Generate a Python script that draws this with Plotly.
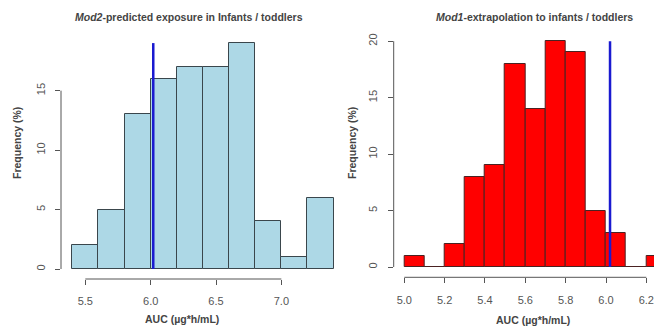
import plotly.graph_objects as go

# ---- data ----
left_edges = [5.4, 5.6, 5.8, 6.0, 6.2, 6.4, 6.6, 6.8, 7.0, 7.2, 7.4]
left_counts = [2, 5, 13, 16, 17, 17, 19, 4, 1, 6]
right_edges = [5.0, 5.1, 5.2, 5.3, 5.4, 5.5, 5.6, 5.7, 5.8, 5.9, 6.0, 6.1, 6.2, 6.3]
right_counts = [1, 0, 2, 8, 9, 18, 14, 20, 19, 5, 3, 0, 1]
ref_auc = 6.02
left_xticks = [5.5, 6.0, 6.5, 7.0]
left_yticks = [0, 5, 10, 15]
right_xticks = [5.0, 5.2, 5.4, 5.6, 5.8, 6.0, 6.2]
right_yticks = [0, 5, 10, 15, 20]

PAGE_W, PAGE_H = 662, 327
OFF = 8  # default page body margin
W, H = PAGE_W - OFF, PAGE_H - OFF
FONT = "Liberation Sans, Arial, sans-serif"
TXT = "#555555"


def centers(edges):
    return [(a + b) / 2 for a, b in zip(edges[:-1], edges[1:])]


def widths(edges):
    return [b - a for a, b in zip(edges[:-1], edges[1:])]


fig = go.Figure()
fig.add_trace(go.Bar(x=centers(left_edges), y=left_counts, width=widths(left_edges),
                     marker=dict(color="#ADD8E6", line=dict(color="#3a464c", width=1)),
                     xaxis="x", yaxis="y", showlegend=False))
fig.add_trace(go.Scatter(x=[ref_auc, ref_auc], y=[0, max(left_counts)], mode="lines",
                         line=dict(color="#1a1ad0", width=2.5), xaxis="x", yaxis="y",
                         showlegend=False))
fig.add_trace(go.Bar(x=centers(right_edges), y=right_counts, width=widths(right_edges),
                     marker=dict(color="#FF0000", line=dict(color="#4a2222", width=1)),
                     xaxis="x2", yaxis="y2", showlegend=False))
fig.add_trace(go.Scatter(x=[ref_auc, ref_auc], y=[0, max(right_counts)], mode="lines",
                         line=dict(color="#1a1ad0", width=2.5), xaxis="x2", yaxis="y2",
                         showlegend=False))


def px_x(p):
    return (p - OFF) / W


def px_y(p):
    return (PAGE_H - p) / H


# left panel pixel calibration (page pixels)
l_x0, l_x1 = 61, 340
l_scale = 130.7  # px per unit
l_ref = (5.5, 85.3)
l_ybot, l_ytop = 279, 30
l_yscale = 11.89
l_zero = 269

r_x0, r_x1 = 393.7, 662
r_scale = 201.7
r_ref = (5.0, 404.3)
r_ybot, r_ytop = 277.3, 30
r_yscale = 11.29
r_zero = 267

common_x = dict(showgrid=False, zeroline=False, showline=False, ticks="outside", ticklen=5,
                tickcolor="#555555", tickwidth=1, tickfont=dict(family=FONT, size=11, color=TXT),
                ticklabelstandoff=7)
common_y = dict(showgrid=False, zeroline=False, showline=False, ticks="outside", ticklen=5,
                tickcolor="#555555", tickwidth=1, tickangle=-90,
                tickfont=dict(family=FONT, size=11, color=TXT), ticklabelstandoff=6)

fig.update_layout(
    width=W, height=H, margin=dict(l=0, r=0, t=0, b=0),
    plot_bgcolor="white", paper_bgcolor="white", bargap=0,
    xaxis=dict(common_x, domain=[px_x(l_x0), px_x(l_x1)],
               range=[l_ref[0] - (l_ref[1] - l_x0) / l_scale, l_ref[0] + (l_x1 - l_ref[1]) / l_scale],
               tickvals=left_xticks, ticktext=[f"{v:.1f}" for v in left_xticks], anchor="y"),
    yaxis=dict(common_y, domain=[px_y(l_ybot), px_y(l_ytop)],
               range=[-(l_ybot - l_zero) / l_yscale, (l_zero - l_ytop) / l_yscale],
               tickvals=left_yticks, anchor="x"),
    xaxis2=dict(common_x, domain=[px_x(r_x0), min(1, px_x(r_x1))],
                range=[r_ref[0] - (r_ref[1] - r_x0) / r_scale, r_ref[0] + (r_x1 - r_ref[1]) / r_scale],
                tickvals=right_xticks, ticktext=[f"{v:.1f}" for v in right_xticks], anchor="y2"),
    yaxis2=dict(common_y, domain=[px_y(r_ybot), px_y(r_ytop)],
                range=[-(r_ybot - r_zero) / r_yscale, (r_zero - r_ytop) / r_yscale],
                tickvals=right_yticks, anchor="x2"),
)

# axis lines spanning the tick range (R style)
for xa, ya, xt, yt in [("x", "y", left_xticks, left_yticks), ("x2", "y2", right_xticks, right_yticks)]:
    fig.add_shape(type="line", xref=xa, yref=f"{ya} domain", x0=xt[0], x1=xt[-1], y0=0, y1=0,
                  line=dict(color="#555555", width=1))
    fig.add_shape(type="line", xref=f"{xa} domain", yref=ya, x0=0, x1=0, y0=yt[0], y1=yt[-1],
                  line=dict(color="#555555", width=1))

TITLE_C = "#444444"
ann = [
    dict(text="<b><i>Mod2</i>-predicted exposure in Infants / toddlers</b>", x=px_x(189), y=px_y(17)),
    dict(text="<b><i>Mod1</i>-extrapolation to infants / toddlers</b>", x=px_x(534), y=px_y(17)),
    dict(text="<b>AUC (µg*h/mL)</b>", x=px_x(182), y=px_y(319)),
    dict(text="<b>AUC (µg*h/mL)</b>", x=px_x(533), y=px_y(320)),
    dict(text="<b>Frequency (%)</b>", x=px_x(17), y=px_y(143), textangle=-90),
    dict(text="<b>Frequency (%)</b>", x=px_x(352), y=px_y(143), textangle=-90),
]
for a in ann:
    fig.add_annotation(xref="paper", yref="paper", showarrow=False, xanchor="center", yanchor="middle",
                       font=dict(family=FONT, size=10.5, color=TITLE_C), **a)

fig.write_html("out.html")
